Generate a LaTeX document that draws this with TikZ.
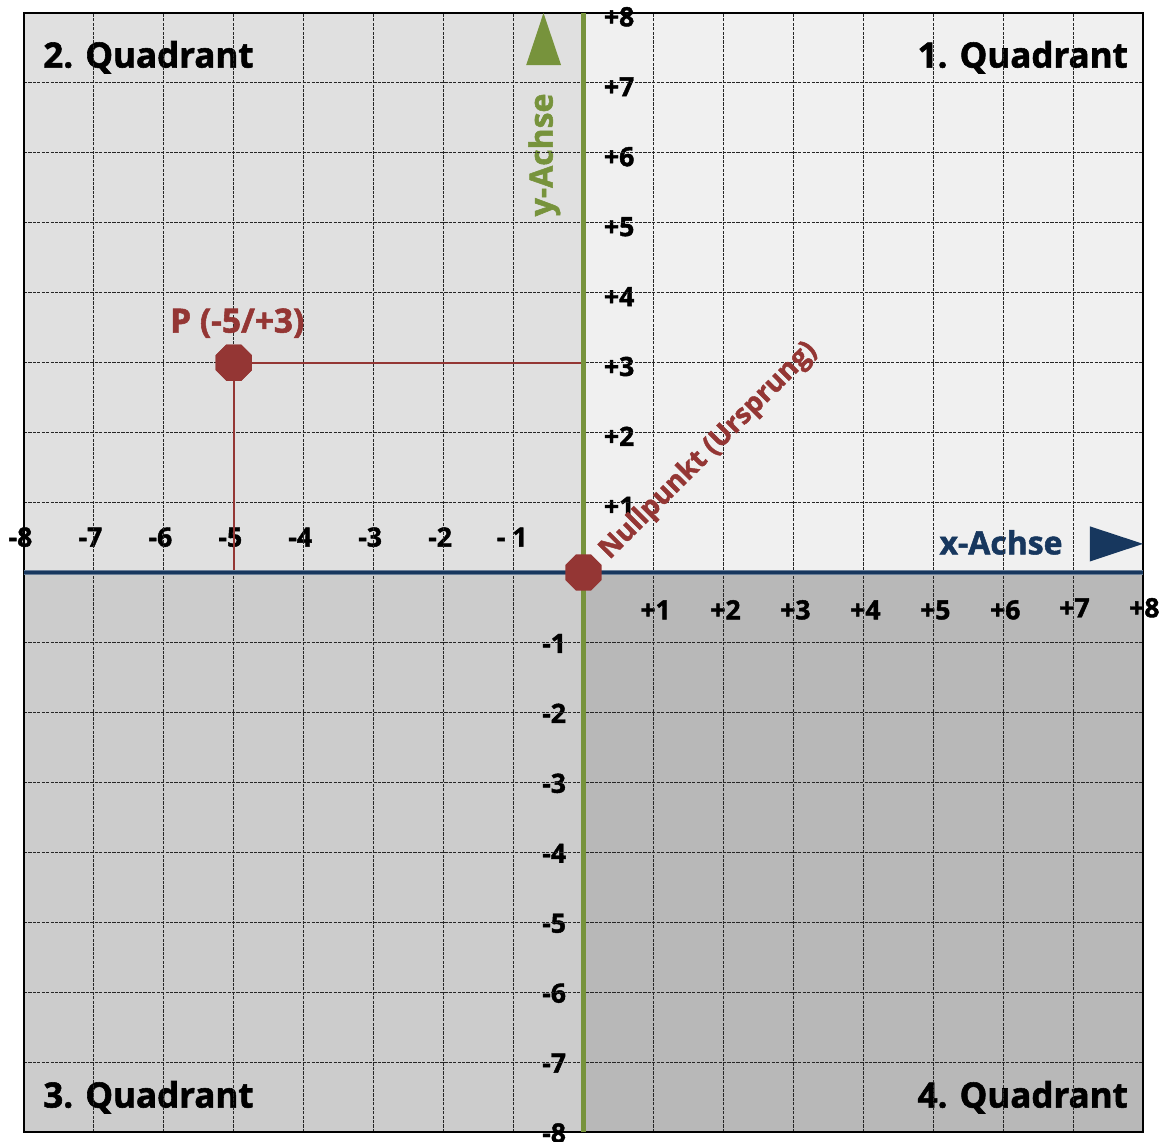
\documentclass[tikz,border=0pt]{standalone}
\usepackage{fontspec}
\setmainfont{Open Sans}[BoldFeatures={FakeBold=1.6}]
\usetikzlibrary{shapes.geometric}
\definecolor{qone}{HTML}{F0F0F0}
\definecolor{qtwo}{HTML}{E0E0E0}
\definecolor{qthree}{HTML}{CCCCCC}
\definecolor{qfour}{HTML}{B8B8B8}
\definecolor{axblue}{HTML}{17375E}
\definecolor{axgreen}{HTML}{77933C}
\definecolor{ptred}{HTML}{943634}
\tikzset{
  gridline/.style={line width=0.45pt, black!85, dash pattern=on 1.3pt off 0.5pt},
  ticklab/.style={anchor=base, inner sep=0pt, font=\fontsize{10.8}{12}\selectfont\bfseries, text=black},
  quadlab/.style={inner sep=0pt, font=\fontsize{14.2}{16}\selectfont\bfseries, text=black},
  axislab/.style={inner sep=0pt, font=\fontsize{13}{15}\selectfont\bfseries},
  dot/.style={regular polygon, regular polygon sides=8, minimum size=0.56cm, inner sep=0pt, fill=ptred, draw=none},
  redline/.style={ptred, line width=0.75pt},
}
\begin{document}
\begin{tikzpicture}
\useasboundingbox (-8.343,-8.129) rectangle (8.286,8.186);
% quadrant backgrounds
\fill[qone] (0,0) rectangle (8,8);
\fill[qtwo] (-8,0) rectangle (0,8);
\fill[qthree] (-8,-8) rectangle (0,0);
\fill[qfour] (0,-8) rectangle (8,0);

% quadrant labels
\node[quadlab, anchor=base west] (q2) at (-7.73,7.22) {2. Quadrant};
\node[quadlab, anchor=base east] (q1) at (7.79,7.22) {1. Quadrant};
\node[quadlab, anchor=base west] (q3) at (-7.73,-7.65) {3. Quadrant};
\node[quadlab, anchor=base east] (q4) at (7.79,-7.65) {4. Quadrant};

% axis labels
\node[axislab, text=axblue, anchor=base] (xlab) at (5.97,0.26) {x-Achse};
\node[axislab, text=axgreen, rotate=90] (ylab) at (-0.56,5.97) {y-Achse};

% tick labels x
\foreach \k in {-8,-7,-6,-5,-4,-3,-2}
  \node[ticklab] (xt\k) at (\k-0.05,0.37) {\k};
\node[ticklab] (xtm1) at (-1.02,0.37) {- 1};
\foreach \k in {1,...,6}
  \node[ticklab] (xtp\k) at (\k+0.03,-0.67) {+\k};
\foreach \k in {7,8}
  \node[ticklab] (xtp\k) at (\k+0.02,-0.64) {+\k};
% tick labels y
\foreach \k in {1,...,8}
  \node[ticklab] (ytp\k) at (0.51,\k-0.19) {+\k};
\foreach \k in {-1,-2,-3,-4,-5,-6,-7,-8}
  \node[ticklab] (ytm\k) at (-0.42,\k-0.15) {\k};

% grid
\foreach \k in {-7,...,7} {
  \draw[gridline] (\k,-8) -- (\k,8);
  \draw[gridline] (-8,\k) -- (8,\k);
}
\draw[black, line width=0.6pt] (-8,-8) rectangle (8,8);

% named points
\coordinate (xl) at (-8,0);
\coordinate (xr) at (8,0);
\coordinate (yb) at (0,-8);
\coordinate (yt) at (0,8);
\coordinate (Py) at (0,3);
\coordinate (Px) at (-5,0);

% point P helper lines
\node[dot] (P) at (-5,3) {};
\draw[redline] (P.center) -- (Py);
\draw[redline] (P.center) -- (Px);

% axes
\draw[axblue!65, line width=2.1pt] (xl) -- (xr);
\draw[axblue, line width=1.4pt] (xl) -- (xr);
\draw[axgreen, line width=2.2pt] (yb) -- (yt);

% arrow heads
\fill[axgreen] (-0.572,8.0) -- (-0.82,7.253) -- (-0.32,7.253) -- cycle;
\fill[axblue] (8.0,0.41) -- (7.24,0.66) -- (7.24,0.157) -- cycle;

% dots
\node[dot] (P2) at (-5,3) {};
\node[dot] (O) at (0,0) {};

% point labels
\node[axislab, text=ptred, anchor=base, font=\fontsize{13.6}{15}\selectfont\bfseries] (Plab) at (-4.95,3.43) {P (-5/+3)};
\node[inner sep=0pt, text=ptred, rotate=45, font=\fontsize{11.2}{12}\selectfont\bfseries] (Olab) at (1.79,1.74) {Nullpunkt (Ursprung)};
\end{tikzpicture}
\end{document}
